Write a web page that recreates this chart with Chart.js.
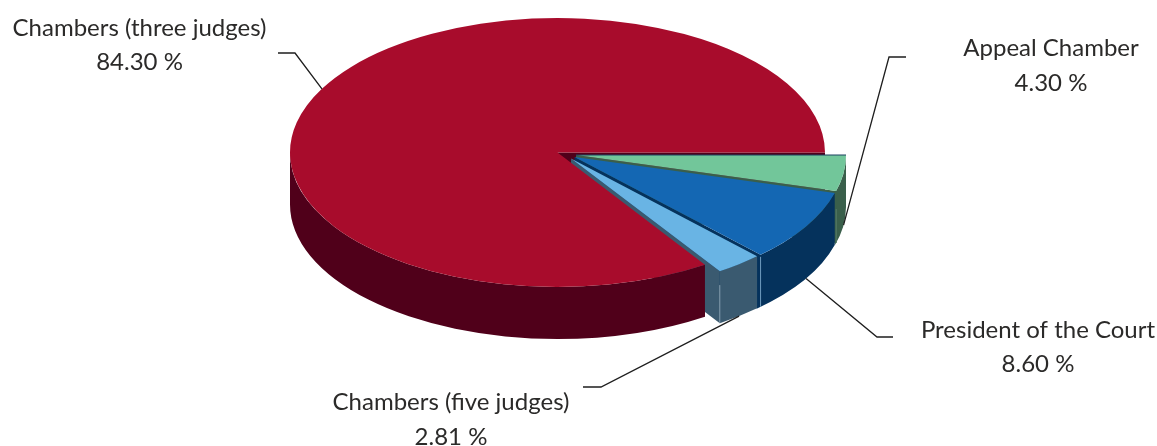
<!DOCTYPE html>
<html>
<head>
<meta charset="utf-8">
<style>html,body{margin:0;padding:0;background:#fff;overflow:hidden}canvas{display:block}</style>
<script src="https://cdn.jsdelivr.net/npm/chart.js@4"></script>
</head>
<body>
<canvas id="c" width="1157" height="446"></canvas>
<script>
const categories = ["Appeal Chamber", "President of the Court", "Chambers (five judges)", "Chambers (three judges)"];
const shareValues = [4.30, 8.60, 2.81, 84.30];
const topColors = ["#72c69a", "#1467b3", "#69b4e4", "#a80c2c"];
const wallColors = ["#3a5f4b", "#05325c", "#3a5a70", "#50001a"];

// presentation: where each wedge sits on the page
const DEPTH = 52;
const wedgeStyle = [
  {cx: 576, cy: 155, rx: 270, ry: 135},
  {cx: 574.5, cy: 157, rx: 270, ry: 135},
  {cx: 571, cy: 158.5, rx: 270, ry: 135},
  {cx: 557.5, cy: 152.5, rx: 267.5, ry: 134.5}
];
const labelStyle = [
  {x: 1051, y1: 56, y2: 91, elbow: [889, 57], end: [906, 57], lowerRim: true},
  {x: 1038, y1: 338, y2: 372, elbow: [877, 337], end: [893, 337], lowerRim: true},
  {x: 451, y1: 410, y2: 445, elbow: [601, 387], end: [583, 387], lowerRim: true},
  {x: 139.5, y1: 36, y2: 70, elbow: [295, 53], end: [278, 53], lowerRim: false}
];
const FONT = '24px Lato';
const TEXT = '#2b2a29';

function rimWall(ctx, s, a0, a1, color) {
  ctx.beginPath();
  ctx.ellipse(s.cx, s.cy, s.rx, s.ry, 0, a0, a1, false);
  ctx.ellipse(s.cx, s.cy + DEPTH, s.rx, s.ry, 0, a1, a0, true);
  ctx.closePath();
  ctx.fillStyle = color;
  ctx.fill();
}
function cutWall(ctx, s, a, color) {
  const x = s.cx + s.rx * Math.cos(a), y = s.cy + s.ry * Math.sin(a);
  ctx.beginPath();
  ctx.moveTo(s.cx, s.cy);
  ctx.lineTo(x, y);
  ctx.lineTo(x, y + DEPTH);
  ctx.lineTo(s.cx, s.cy + DEPTH);
  ctx.closePath();
  ctx.fillStyle = color;
  ctx.fill();
}
function topFace(ctx, el, s) {
  ctx.save();
  ctx.translate(s.cx, s.cy);
  ctx.scale(s.rx / el.outerRadius, s.ry / el.outerRadius);
  ctx.translate(-el.x, -el.y);
  el.draw(ctx);
  ctx.restore();
}
function seam(ctx, s, a, color, skip) {
  const x = s.cx + s.rx * Math.cos(a), y = s.cy + s.ry * Math.sin(a);
  ctx.beginPath();
  ctx.moveTo(x, y + skip);
  ctx.lineTo(x, y + DEPTH);
  ctx.strokeStyle = color;
  ctx.lineWidth = 1;
  ctx.stroke();
}

const solidPie = {
  id: 'solidPie',
  beforeDatasetDraw(chart, args) {
    const ctx = chart.ctx, arcs = chart.getDatasetMeta(args.index).data;
    const R = 3, LB = 2, B = 1, G = 0;
    // everything that must stay behind the red top
    cutWall(ctx, wedgeStyle[R], arcs[R].endAngle, wallColors[R]);
    cutWall(ctx, wedgeStyle[R], arcs[R].startAngle, wallColors[R]);
    [G, B, LB].forEach(i => cutWall(ctx, wedgeStyle[i], arcs[i].endAngle, wallColors[i]));
    rimWall(ctx, wedgeStyle[R], arcs[R].startAngle, Math.PI, wallColors[R]);
    topFace(ctx, arcs[R], wedgeStyle[R]);
    // exploded wedges, back to front
    const seamColors = ['#557a68', '#6f9bbd', '#7d97a8'];
    const seamSkip = [18, 2, 14];
    [G, B, LB].forEach(i => {
      const s = wedgeStyle[i], a = arcs[i];
      rimWall(ctx, s, a.startAngle, a.endAngle + (i === LB ? 0 : 0.02), wallColors[i]);
      seam(ctx, s, a.endAngle, seamColors[i], seamSkip[i]);
      topFace(ctx, a, s);
    });
    // dark edge along the green wedge's upper side
    const g = wedgeStyle[G];
    ctx.beginPath();
    ctx.moveTo(g.cx, g.cy);
    ctx.lineTo(g.cx + g.rx, g.cy);
    ctx.strokeStyle = '#1c4060';
    ctx.lineWidth = 1;
    ctx.stroke();
    return false;
  },
  afterDatasetsDraw(chart) {
    const ctx = chart.ctx, arcs = chart.getDatasetMeta(0).data;
    ctx.save();
    arcs.forEach((el, i) => {
      const s = wedgeStyle[i], l = labelStyle[i];
      const mid = (el.startAngle + el.endAngle) / 2;
      const ax = s.cx + s.rx * Math.cos(mid);
      const ay = s.cy + s.ry * Math.sin(mid) + (l.lowerRim ? DEPTH : 0);
      ctx.beginPath();
      ctx.moveTo(ax, ay);
      ctx.lineTo(l.elbow[0], l.elbow[1]);
      ctx.lineTo(l.end[0], l.end[1]);
      ctx.strokeStyle = '#1e1e1e';
      ctx.lineWidth = 1.3;
      ctx.stroke();
      ctx.font = FONT;
      ctx.fillStyle = TEXT;
      ctx.textAlign = 'center';
      ctx.textBaseline = 'alphabetic';
      ctx.fillText(categories[i], l.x, l.y1);
      ctx.fillText(shareValues[i].toFixed(2) + ' %', l.x, l.y2);
    });
    ctx.restore();
  }
};

new Chart(document.getElementById('c'), {
  type: 'pie',
  data: {
    labels: categories,
    datasets: [{data: shareValues, backgroundColor: topColors, borderWidth: 0}]
  },
  options: {
    responsive: false,
    devicePixelRatio: 1,
    animation: false,
    rotation: 90,
    radius: 260,
    layout: {padding: {left: 0, right: 42, top: 0, bottom: 141}},
    plugins: {legend: {display: false}, tooltip: {enabled: false}, title: {display: false}}
  },
  plugins: [solidPie]
});
</script>
</body>
</html>
